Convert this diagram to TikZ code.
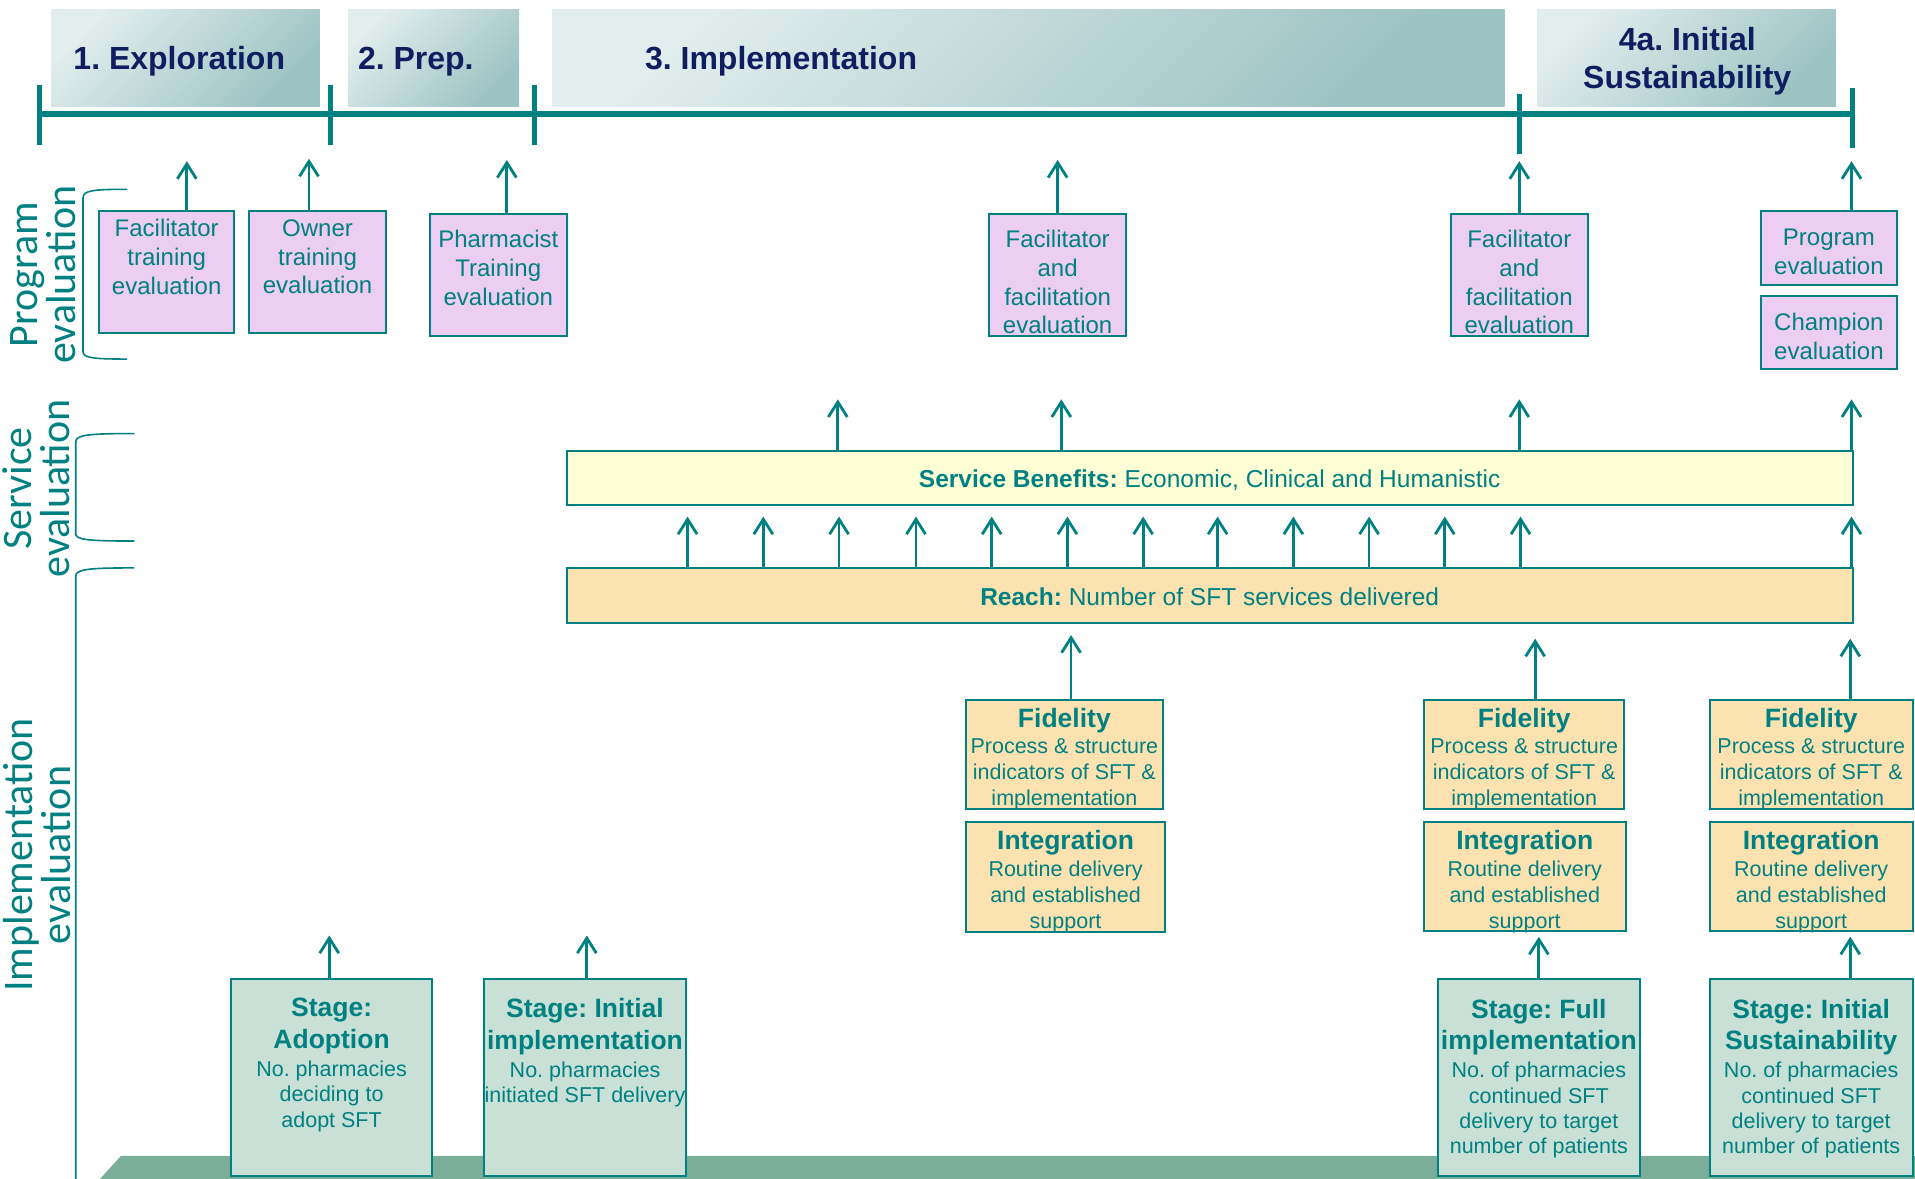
\documentclass[tikz,border=0pt]{standalone}
\usepackage{fontspec}
\setmainfont{Liberation Sans}
\newfontfamily\sidefont{Carlito}
\usetikzlibrary{arrows.meta}
\frenchspacing
\definecolor{tl}{RGB}{0,128,128}
\definecolor{navy}{RGB}{14,30,96}
\definecolor{pinkf}{RGB}{236,206,242}
\definecolor{orf}{RGB}{253,226,177}
\definecolor{yelf}{RGB}{255,255,214}
\definecolor{grf}{RGB}{200,224,214}
\definecolor{plat}{RGB}{122,174,152}
\definecolor{hdl}{RGB}{226,237,237}
\definecolor{hdd}{RGB}{155,195,194}
\def\uu{1.2213pt}
\newcommand\bx[6]{\node[#1, minimum width={(#5-#3)*\uu}, minimum height={(#6-#4)*\uu}] (#2) at ({(#3+#5)/2},{(#4+#6)/2}) {};}
\newcommand\hd[1]{{\fontsize{26.5}{26}\selectfont\bfseries #1}}
\tikzset{
 bxs/.style={draw=tl, line width=2pt, inner sep=0pt},
 pinkbox/.style={bxs, fill=pinkf},
 orbox/.style={bxs, fill=orf},
 stbox/.style={bxs, fill=grf},
 bar/.style={bxs, line width=2.2pt},
 hdrbox/.style={inner sep=0pt, top color=hdl, bottom color=hdd, shading angle=45},
 hdr/.style={text=navy, font=\fontsize{32}{38}\selectfont\bfseries, inner sep=0pt},
 txt/.style={text=tl, inner sep=0pt, align=center, font=\fontsize{24}{28.7}\selectfont},
 sub/.style={text=tl, inner sep=0pt, align=center, font=\fontsize{21.5}{26}\selectfont},
 stg/.style={text=tl, inner sep=0pt, align=center, font=\fontsize{21.5}{25.3}\selectfont},
 side/.style={text=tl, inner sep=0pt, align=center, rotate=90, font=\sidefont\fontsize{42}{38}\selectfont},
 arr/.style={draw=tl, line width=2.8pt, -{Straight Barb[length=15pt,width=19pt]}},
 tickln/.style={draw=tl, line width=5pt},
 brk/.style={draw=tl, line width=1.6pt},
}
\begin{document}
\begin{tikzpicture}[x=1.2213pt, y=-1.2213pt]
\useasboundingbox (0,0) rectangle (1568,965);
\clip (0,0) rectangle (1568,965);

% header boxes
\bx{hdrbox}{h1}{42}{7.4}{262}{87}
\bx{hdrbox}{h2}{285}{7.4}{425}{87}
\bx{hdrbox}{h3}{452}{7.4}{1232}{87}
\bx{hdrbox}{h4}{1259}{7.4}{1503}{87}
\node[hdr, anchor=base west] (h1t) at (60,56.5) {1. Exploration};
\node[hdr, anchor=base west] (h2t) at (293,56.5) {2. Prep.};
\node[hdr, anchor=base west] (h3t) at (528,57) {3. Implementation};
\node[hdr, align=center, anchor=north] (h4t) at (1381.5,22.5) {4a. Initial\\Sustainability};

% timeline
\coordinate (t0) at (32,93.5);
\coordinate (t4) at (1517,93.5);
\draw[tl, line width=6.5pt] (t0) -- (t4);
\draw[tickln] (32,70) -- (32,119);
\draw[tickln] (271,70) -- (271,119);
\draw[tickln] (438,70) -- (438,119);
\draw[tickln] (1244,77) -- (1244,126);
\draw[tickln] (1517,72) -- (1517,121);

% side labels and brackets
\node[side] (lp) at (35,225) {Program\\evaluation};
\node[side] (ls) at (29.5,400) {Service\\evaluation};
\node[side] (li) at (30.5,700) {Implementation\\evaluation};
\draw[brk] (104,155) .. controls (76,155) and (68,156) .. (68,162) -- (68,288) .. controls (68,293) and (76,294) .. (104,294);
\draw[brk] (110,355) .. controls (72,355) and (62,356) .. (62,362) -- (62,437) .. controls (62,442) and (72,443) .. (110,443);
\draw[brk] (110,465) .. controls (72,465) and (62,466) .. (62,472) -- (62,975);

% platform
\fill[plat] (99,946.5) -- (1575,946.5) -- (1575,975) -- (73,975) -- cycle;

% program evaluation boxes
\bx{pinkbox}{p1}{81}{173}{192}{273}
\bx{pinkbox}{p2}{204}{173}{316}{273}
\bx{pinkbox}{p3}{352}{175}{464}{275}
\bx{pinkbox}{p4}{810}{175}{922}{275}
\bx{pinkbox}{p5}{1188}{175}{1300}{275}
\bx{pinkbox}{p6}{1442}{173}{1553}{233}
\bx{pinkbox}{p7}{1442}{242}{1553}{302}
\node[txt, anchor=north] (p1t) at (136.5,179.6) {Facilitator\\training\\evaluation};
\node[txt, anchor=north] (p2t) at (260,179.6) {Owner\\training\\evaluation};
\node[txt, anchor=north] (p3t) at (408,188.4) {Pharmacist\\Training\\evaluation};
\node[txt, anchor=north] (p4t) at (866,188.4) {Facilitator\\and\\facilitation\\evaluation};
\node[txt, anchor=north] (p5t) at (1244,188.4) {Facilitator\\and\\facilitation\\evaluation};
\node[txt, anchor=north] (p6t) at (1497.5,187.4) {Program\\evaluation};
\node[txt, anchor=north] (p7t) at (1497.5,256.4) {Champion\\evaluation};

\coordinate (ap1) at (153,132);
\coordinate (ap2) at (253,130);
\coordinate (ap3) at (415,131);
\coordinate (ap4) at (866,131);
\coordinate (ap5) at (1244,132);
\coordinate (ap6) at (1516,132);
\draw[arr] (ap1 |- p1.north) -- (ap1);
\draw[arr] (ap2 |- p2.north) -- (ap2);
\draw[arr] (ap3 |- p3.north) -- (ap3);
\draw[arr] (ap4 |- p4.north) -- (ap4);
\draw[arr] (ap5 |- p5.north) -- (ap5);
\draw[arr] (ap6 |- p6.north) -- (ap6);

% service benefits and reach bars
\bx{bar, fill=yelf}{ben}{464}{369}{1517}{413.5}
\bx{bar, fill=orf}{reach}{464}{465}{1517}{510}
\node[txt, anchor=base, font=\fontsize{24.5}{29}\selectfont] (bent) at (990.5,399) {\textbf{Service Benefits:} Economic, Clinical and Humanistic};
\node[txt, anchor=base, font=\fontsize{24.5}{29}\selectfont] (reacht) at (990.5,496) {\textbf{Reach:} Number of SFT services delivered};

\foreach \x [count=\i] in {686,869,1244,1516} {
  \coordinate (ab\i) at (\x,327);
  \draw[arr] (ab\i |- ben.north) -- (ab\i);
}
\foreach \x [count=\i] in {563,625,687,750,812,874,936,997,1059,1121,1183,1245,1516} {
  \coordinate (ar\i) at (\x,423);
  \draw[arr] (ar\i |- reach.north) -- (ar\i);
}

% fidelity and integration
\bx{orbox}{f1}{791}{573}{952}{662.5}
\bx{orbox}{g1}{791}{673}{954}{763}
\bx{orbox}{f2}{1166}{573}{1330}{662.5}
\bx{orbox}{g2}{1166}{673}{1331}{762}
\bx{orbox}{f3}{1400}{573}{1566}{662.5}
\bx{orbox}{g3}{1400}{673}{1566}{762}
\node[sub, anchor=north] (f1t) at (871.5,579.7) {\hd{Fidelity}\\[0.5pt]Process \& structure\\indicators of SFT \&\\implementation};
\node[sub, anchor=north] (g1t) at (872.5,679.7) {\hd{Integration}\\[0.5pt]Routine delivery\\and established\\support};
\node[sub, anchor=north] (f2t) at (1248,579.7) {\hd{Fidelity}\\[0.5pt]Process \& structure\\indicators of SFT \&\\implementation};
\node[sub, anchor=north] (g2t) at (1248.5,679.7) {\hd{Integration}\\[0.5pt]Routine delivery\\and established\\support};
\node[sub, anchor=north] (f3t) at (1483,579.7) {\hd{Fidelity}\\[0.5pt]Process \& structure\\indicators of SFT \&\\implementation};
\node[sub, anchor=north] (g3t) at (1483,679.7) {\hd{Integration}\\[0.5pt]Routine delivery\\and established\\support};

\coordinate (af1) at (877,520);
\coordinate (af2) at (1257,523);
\coordinate (af3) at (1515,523);
\draw[arr] (af1 |- f1.north) -- (af1);
\draw[arr] (af2 |- f2.north) -- (af2);
\draw[arr] (af3 |- f3.north) -- (af3);

% stage boxes
\bx{stbox}{s1}{189}{802}{354}{963}
\bx{stbox}{s2}{396.5}{802}{562}{963}
\bx{stbox}{s3}{1177.5}{802}{1343}{963}
\bx{stbox}{s4}{1400}{802}{1566}{963}
\node[stg, anchor=north] (s1t) at (271.5,817.3) {\hd{Stage:}\\[6.5pt]\hd{Adoption}\\[2.5pt]No. pharmacies\\deciding to\\adopt SFT};
\node[stg, anchor=north] (s2t) at (479,817.3) {\hd{Stage: Initial}\\[6.5pt]\hd{implementation}\\[2.5pt]No. pharmacies\\initiated SFT delivery};
\node[stg, anchor=north] (s3t) at (1260,817.8) {\hd{Stage: Full}\\[6.5pt]\hd{implementation}\\[2.5pt]No. of pharmacies\\continued SFT\\delivery to target\\number of patients};
\node[stg, anchor=north] (s4t) at (1483,817.8) {\hd{Stage: Initial}\\[6.5pt]\hd{Sustainability}\\[2.5pt]No. of pharmacies\\continued SFT\\delivery to target\\number of patients};

\coordinate (as1) at (269.6,766);
\coordinate (as2) at (480.5,766);
\coordinate (as3) at (1260,767);
\coordinate (as4) at (1515,767);
\draw[arr] (as1 |- s1.north) -- (as1);
\draw[arr] (as2 |- s2.north) -- (as2);
\draw[arr] (as3 |- s3.north) -- (as3);
\draw[arr] (as4 |- s4.north) -- (as4);
\end{tikzpicture}
\end{document}
